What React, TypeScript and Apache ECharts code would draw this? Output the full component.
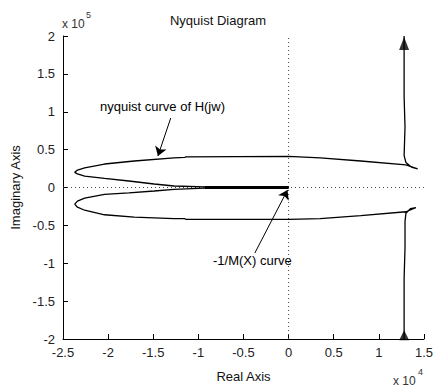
import React, { useEffect, useRef } from "react";
import * as echarts from "echarts";

// x in units of 1e4, y in units of 1e5
const upperHalf: [number, number][] = [
  [0, 0], [-0.5, 0.003], [-0.93, 0.007], [-1.27, 0.02], [-1.49, 0.046], [-1.77, 0.086],
  [-2.04, 0.12], [-2.26, 0.15], [-2.34, 0.18], [-2.37, 0.2], [-2.34, 0.23], [-2.26, 0.26],
  [-2.04, 0.31], [-1.71, 0.35], [-1.27, 0.39], [-1.15, 0.397], [-1.14, 0.405], [0, 0.41],
  [0.35, 0.39], [0.8, 0.35], [1.3, 0.3], [1.43, 0.245], [1.36, 0.27], [1.3, 0.33],
  [1.28, 0.42], [1.29, 0.8], [1.28, 1.2], [1.28, 2.0],
];
const lowerHalf: [number, number][] = [
  [0, 0], [-0.5, -0.003], [-0.93, -0.008], [-1.27, -0.025], [-1.49, -0.046], [-1.77, -0.07],
  [-2.04, -0.09], [-2.26, -0.14], [-2.34, -0.18], [-2.37, -0.22], [-2.34, -0.26], [-2.26, -0.3],
  [-2.04, -0.36], [-1.71, -0.39], [-1.27, -0.41], [-1.15, -0.412], [-1.14, -0.42], [0, -0.42],
  [0.35, -0.41], [0.8, -0.37], [1.3, -0.32], [1.41, -0.267], [1.35, -0.28], [1.3, -0.34],
  [1.29, -0.45], [1.29, -0.8], [1.28, -1.2], [1.28, -2.0],
];
const mCurve: [number, number][] = [[-0.93, 0], [-0.5, 0], [0, 0]];
const arrowPoints: [number, number][] = [[1.28, 1.9]];
const arrowPointsLow: [number, number][] = [[1.28, -1.95]];
const xTickMin = -2.5, xTickMax = 1.5, xStep = 0.5;
const yTickMin = -2, yTickMax = 2, yStep = 0.5;
const annotNyq: [[number, number], [number, number]] = [[-1.306, 0.917], [-1.448, 0.416]];
const annotM: [[number, number], [number, number]] = [[-0.374, -0.865], [-0.012, -0.033]];

const FONT = "'Liberation Sans', Arial, sans-serif";

export default function App() {
  const ref = useRef<HTMLDivElement>(null);
  useEffect(() => {
    if (!ref.current) return;
    const chart = echarts.init(ref.current, null, { renderer: "svg" });
    const black = "#000";
    chart.setOption({
      animation: false,
      backgroundColor: "#fff",
      textStyle: { fontFamily: FONT },
      grid: { left: 63, right: 8, top: 36, bottom: 49 },
      xAxis: {
        type: "value", min: xTickMin, max: xTickMax, interval: xStep,
        axisLine: { show: true, onZero: false, lineStyle: { color: black, width: 1 } },
        axisTick: { show: true, inside: true, length: 5, lineStyle: { color: black } },
        splitLine: { show: false },
        axisLabel: { color: "#222", fontSize: 13, margin: 7, fontFamily: FONT },
        name: "Real Axis", nameLocation: "middle", nameGap: 31,
        nameTextStyle: { color: "#111", fontSize: 13, fontFamily: FONT },
      },
      yAxis: {
        type: "value", min: yTickMin, max: yTickMax, interval: yStep,
        axisLine: { show: true, onZero: false, lineStyle: { color: black, width: 1 } },
        axisTick: { show: true, inside: true, length: 5, lineStyle: { color: black } },
        splitLine: { show: false },
        axisLabel: { color: "#222", fontSize: 13, margin: 8, fontFamily: FONT },
        name: "Imaginary Axis", nameLocation: "middle", nameGap: 41,
        nameTextStyle: { color: "#111", fontSize: 13, fontFamily: FONT },
      },
      series: [
        {
          type: "line", data: [[xTickMin, 0], [xTickMax, 0]], symbol: "none", silent: true,
          lineStyle: { color: "#444", width: 1, type: [1, 3] },
        },
        {
          type: "line", data: [[0, yTickMin], [0, yTickMax]], symbol: "none", silent: true,
          lineStyle: { color: "#444", width: 1, type: [1, 3] },
        },
        {
          type: "line", data: upperHalf, symbol: "none", silent: true,
          lineStyle: { color: black, width: 1.3 },
        },
        {
          type: "line", data: lowerHalf, symbol: "none", silent: true,
          lineStyle: { color: black, width: 1.3 },
        },
        {
          type: "line", data: mCurve, symbol: "none", silent: true,
          lineStyle: { color: black, width: 3 },
          markLine: {
            silent: true, animation: false,
            symbol: ["none", "arrow"], symbolSize: 9,
            label: { show: false },
            lineStyle: { color: black, width: 1, type: "solid" },
            data: [
              [{ coord: annotNyq[0] }, { coord: annotNyq[1] }],
              [{ coord: annotM[0] }, { coord: annotM[1] }],
            ],
          },
        },
        {
          type: "scatter", data: arrowPoints, symbol: "triangle", symbolSize: [10, 13],
          itemStyle: { color: black }, silent: true,
        },
        {
          type: "scatter", data: arrowPointsLow, symbol: "triangle", symbolSize: [10, 10],
          itemStyle: { color: black }, silent: true,
        },
      ],
      graphic: [
        {
          type: "text", left: "center", top: 14,
          style: { text: "Nyquist Diagram", fontSize: 13, fill: "#111", fontFamily: FONT },
        },
        {
          type: "text", x: 62, y: 18,
          style: { text: "x 10", fontSize: 12, fill: "#333", fontFamily: FONT },
        },
        {
          type: "text", x: 86, y: 10,
          style: { text: "5", fontSize: 9, fill: "#333", fontFamily: FONT },
        },
        {
          type: "text", x: 393, y: 375,
          style: { text: "x 10", fontSize: 12, fill: "#333", fontFamily: FONT },
        },
        {
          type: "text", x: 418, y: 367,
          style: { text: "4", fontSize: 9, fill: "#333", fontFamily: FONT },
        },
        {
          type: "text", x: 100, y: 100,
          style: { text: "nyquist curve of H(jw)", fontSize: 13, fill: "#000", fontFamily: FONT },
        },
        {
          type: "text", x: 213, y: 254,
          style: { text: "-1/M(X) curve", fontSize: 13, fill: "#000", fontFamily: FONT },
        },
      ],
    });
    return () => chart.dispose();
  }, []);
  return <div ref={ref} style={{ width: 436, height: 388, position: "absolute", left: 0, top: 0 }} />;
}
